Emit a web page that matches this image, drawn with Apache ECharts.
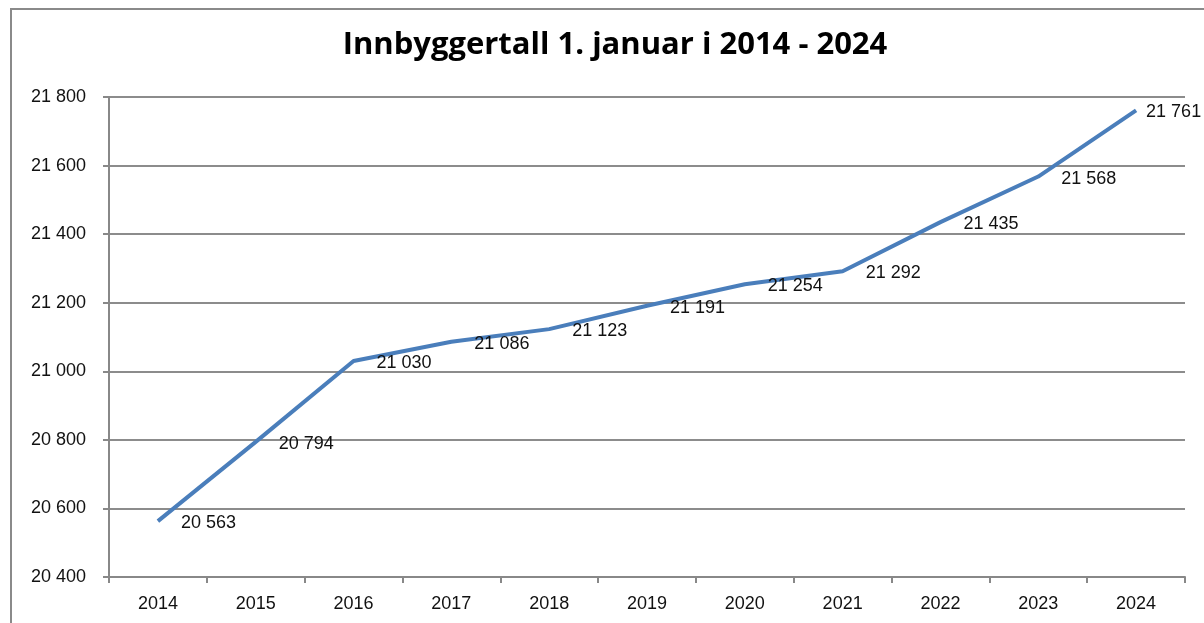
<!DOCTYPE html>
<html>
<head>
<meta charset="utf-8">
<script src="https://cdn.jsdelivr.net/npm/echarts@6/dist/echarts.min.js"></script>
<style>
  html, body { margin: 0; padding: 0; background: #fff; }
  #container { width: 1204px; height: 623px; }
</style>
</head>
<body>
<div id="container"></div>
<script>
/* data */
var years = ['2014', '2015', '2016', '2017', '2018', '2019', '2020', '2021', '2022', '2023', '2024'];
var innbyggere = [20563, 20794, 21030, 21086, 21123, 21191, 21254, 21292, 21435, 21568, 21761];

var fontName = '"Liberation Sans", Arial, sans-serif';

// 21800 -> "21 800"
function spaced(v) {
    return String(v).replace(/\B(?=(\d{3})+(?!\d))/g, ' ');
}

var dom = document.getElementById('container');
var myChart = echarts.init(dom, null, { renderer: 'canvas' });

var points = innbyggere.map(function (v, i) {
    var item = { value: v };
    // last label sits closer to the line so it stays inside the frame
    if (i === innbyggere.length - 1) {
        item.label = { distance: 9 };
    }
    return item;
});

var option = {
    backgroundColor: '#fff',
    animation: false,
    textStyle: { fontFamily: fontName },
    graphic: [{
        type: 'rect',
        shape: { x: 11, y: 9, width: 1300, height: 700 },
        style: { fill: 'none', stroke: '#8a8a8a', lineWidth: 2 },
        silent: true
    }],
    title: {
        text: 'Innbyggertall 1. januar i 2014 - 2024',
        left: 610,
        top: 25,
        textAlign: 'center',
        textStyle: {
            fontFamily: '"Open Sans", sans-serif',
            fontSize: 31,
            fontWeight: 'bold',
            color: '#000'
        }
    },
    grid: {
        left: 109,
        right: 19,
        top: 97,
        bottom: 46,
        containLabel: false
    },
    xAxis: {
        type: 'category',
        data: years,
        boundaryGap: true,
        axisLine: { lineStyle: { color: '#888', width: 2 } },
        axisTick: { show: true, length: 6, lineStyle: { color: '#888', width: 2 } },
        axisLabel: { color: '#111', fontSize: 18, margin: 18, fontFamily: fontName },
        splitLine: { show: false }
    },
    yAxis: {
        type: 'value',
        min: 20400,
        max: 21800,
        interval: 200,
        axisLine: { show: true, lineStyle: { color: '#888', width: 2 } },
        axisTick: { show: true, length: 6, lineStyle: { color: '#888', width: 2 } },
        axisLabel: {
            color: '#111',
            fontSize: 18,
            margin: 23,
            fontFamily: fontName,
            formatter: spaced
        },
        splitLine: { lineStyle: { color: '#8c8c8c', width: 2 } }
    },
    series: [{
        name: 'Innbyggertall',
        type: 'line',
        data: points,
        showSymbol: true,
        symbol: 'circle',
        symbolSize: 2,
        itemStyle: { color: 'rgba(0,0,0,0)', borderWidth: 0 },
        lineStyle: { color: '#4a7ebb', width: 4 },
        label: {
            show: true,
            position: 'right',
            distance: 22,
            offset: [0, 2],
            color: '#111',
            fontSize: 18,
            fontFamily: fontName,
            formatter: function (p) { return spaced(p.value); }
        }
    }]
};

myChart.setOption(option);
</script>
</body>
</html>
